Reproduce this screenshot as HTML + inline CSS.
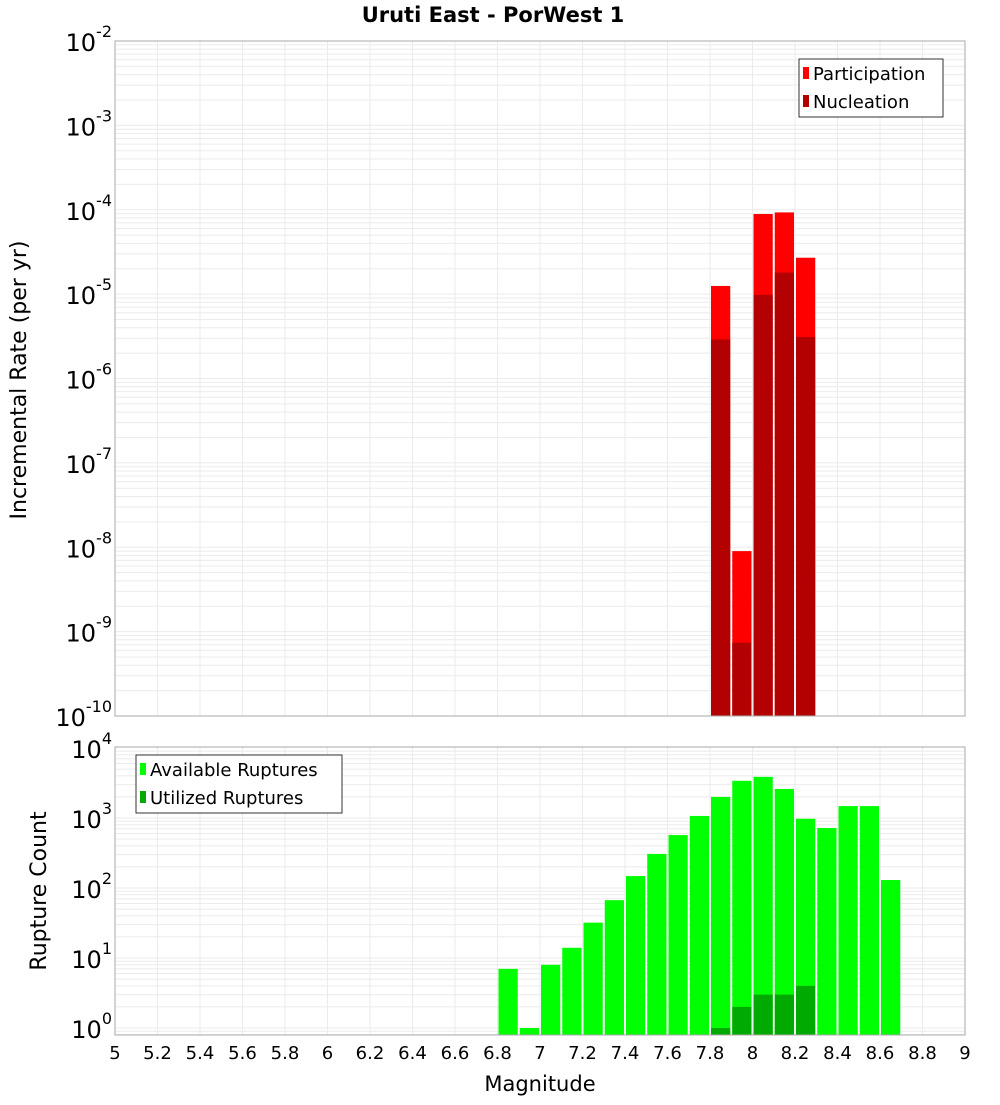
<!DOCTYPE html>
<html><head><meta charset="utf-8"><style>
body{margin:0;background:#fff;}
svg text{font-family:"DejaVu Sans","Liberation Sans",sans-serif;}
</style></head><body>
<svg id="c" width="1000" height="1100" xmlns="http://www.w3.org/2000/svg"></svg>
<script>
const binCenters=[6.85,6.95,7.05,7.15,7.25,7.35,7.45,7.55,7.65,7.75,7.85,7.95,8.05,8.15,8.25,8.35,8.45,8.55,8.65];
const availableRuptures=[7,1,8,14,32,67,148,307,570,1070,2000,3400,3870,2600,975,720,1480,1480,130];
const utilizedRuptures=[0,0,0,0,0,0,0,0,0,0,1,2,3,3,4,0,0,0,0];
const rateCenters=[7.85,7.95,8.05,8.15,8.25];
const participation=[1.25e-5,9e-9,8.9e-5,9.3e-5,2.7e-5];
const nucleation=[2.9e-6,7.4e-10,9.8e-6,1.8e-5,3.1e-6];
const xTicks=[5,5.2,5.4,5.6,5.8,6,6.2,6.4,6.6,6.8,7,7.2,7.4,7.6,7.8,8,8.2,8.4,8.6,8.8,9];
const topExps=[-2,-3,-4,-5,-6,-7,-8,-9,-10];
const botExps=[4,3,2,1,0];

const svg=document.getElementById('c');const NS='http://www.w3.org/2000/svg';
function el(t,a,p){const e=document.createElementNS(NS,t);for(const k in a)e.setAttribute(k,a[k]);(p||svg).appendChild(e);return e;}
const X0=115,X1=965;
const x=m=>X0+(m-5)/4*(X1-X0);
const T0=41,T1=716;const yT=v=>T0+(-2-Math.log10(v))*(T1-T0)/8;
const B0=747,B1=1035;const yB=v=>1028-70*Math.log10(v);
const bw=x(5.1)-x(5);

function grid(top,bot,yf,lo,hi){
  for(let e=lo;e<hi;e++)for(let k=1;k<10;k++){const yy=yf(k*Math.pow(10,e));if(yy<top-0.5||yy>bot+0.5)continue;
    const g=el('line',{x1:X0,x2:X1,y1:yy,y2:yy,stroke:'#ebebeb','stroke-width':1});}
  xTicks.forEach(t=>{const g=el('line',{x1:x(t),x2:x(t),y1:top,y2:bot,stroke:'#ebebeb','stroke-width':1});});
}
grid(T0,T1,yT,-10,-1);
grid(B0,B1,yB,-1,4);

// top bars
rateCenters.forEach((c,i)=>{
  const l=x(c-0.05)+1,w=bw-2;
  let r=el('rect',{x:l,y:yT(participation[i]),width:w,height:T1-yT(participation[i]),fill:'#ff0000'});
  
  r=el('rect',{x:l,y:yT(nucleation[i]),width:w,height:T1-yT(nucleation[i]),fill:'#b30000'});
  
});
binCenters.forEach((c,i)=>{
  const l=x(c-0.05)+1,w=bw-2;
  if(availableRuptures[i]>0){const r=el('rect',{x:l,y:yB(availableRuptures[i]),width:w,height:B1-yB(availableRuptures[i]),fill:'#00ff00'});
    }
  if(utilizedRuptures[i]>0){const r=el('rect',{x:l,y:yB(utilizedRuptures[i]),width:w,height:B1-yB(utilizedRuptures[i]),fill:'#00aa00'});
    }
});

// frames
let f=el('rect',{x:X0,y:T0,width:X1-X0,height:T1-T0,fill:'none',stroke:'#aaa'});
f=el('rect',{x:X0,y:B0,width:X1-X0,height:B1-B0,fill:'none',stroke:'#aaa'});

function powLabel(yy,e,name){
  const t=el('text',{x:112,y:yy+10,'text-anchor':'end','font-size':24,fill:'#000'});
  
  const a=el('tspan',{},t);a.textContent='10';
  const b=el('tspan',{dy:-14,'font-size':16},t);b.textContent=String(e);
}
topExps.forEach(e=>powLabel(yT(Math.pow(10,e)),e,'top-y-tick-label'));
botExps.forEach(e=>powLabel(yB(Math.pow(10,e)),e,'bottom-y-tick-label'));
xTicks.forEach(t=>{const s=el('text',{x:x(t),y:1059,'text-anchor':'middle','font-size':18});s.textContent=String(t);
  });

function txt(s,a,name){const t=el('text',a);t.textContent=s;return t;}
txt('Uruti East - PorWest 1',{x:493,y:22,'text-anchor':'middle','font-size':21,'font-weight':'bold'},'chart-title');
txt('Magnitude',{x:540,y:1091,'text-anchor':'middle','font-size':21},'x-axis-title');
txt('Incremental Rate (per yr)',{x:0,y:0,'text-anchor':'middle','font-size':22,transform:'translate(26,380) rotate(-90)'},'top-y-axis-title');
txt('Rupture Count',{x:0,y:0,'text-anchor':'middle','font-size':22,transform:'translate(46,891) rotate(-90)'},'bottom-y-axis-title');

function legend(bx,by,w,items,name){
  const g=el('g',{});
  el('rect',{x:bx,y:by,width:w,height:58,fill:'#fff',stroke:'#333'},g);
  items.forEach((it,i)=>{const yy=by+14+i*28;
    el('rect',{x:bx+4,y:yy-6,width:6,height:12,fill:it[1]},g);
    const t=el('text',{x:bx+14,y:yy+7,'font-size':18},g);t.textContent=it[0];});
}
legend(799,59,144,[['Participation','#ff0000'],['Nucleation','#b30000']],'top-legend');
legend(136,755,206,[['Available Ruptures','#00ff00'],['Utilized Ruptures','#00aa00']],'bottom-legend');
</script>
</body></html>
